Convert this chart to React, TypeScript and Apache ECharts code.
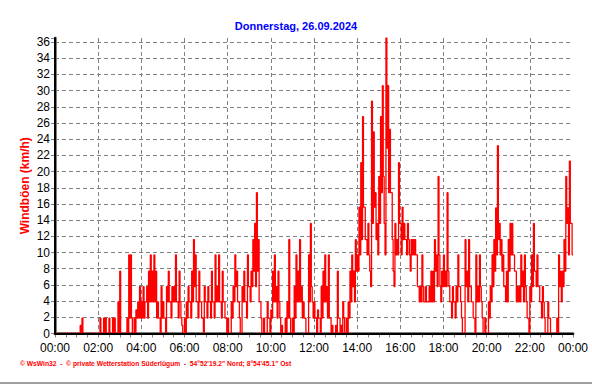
import React, { useEffect, useRef } from "react";
import * as echarts from "echarts";

const TITLE = "Donnerstag, 26.09.2024";
const Y_NAME = "Windböen (km/h)";
const FOOTER = "© WsWin32  -  © private Wetterstation Süderlügum  -  54°52'19.2\" Nord; 8°54'45.1\" Ost";

const STEP_MINUTES = 5;
const Y_TICKS = [0, 2, 4, 6, 8, 10, 12, 14, 16, 18, 20, 22, 24, 26, 28, 30, 32, 34, 36];

// Upper gust in each 5-minute slot (km/h)
// 00:00 - 06:00
const gustsHighNight = [
  0, 0, 0, 0, 0, 0,
  0, 0, 0, 0, 0, 0,
  0, 0, 1, 1.9, 0, 0,
  0, 0, 0, 0, 0, 0,
  0, 1.9, 0, 1.9, 1.9, 0,
  1.9, 0, 1.9, 1.9, 0, 3.9,
  7.7, 0, 0, 0, 1.9, 9.7,
  9.7, 0, 1.9, 2.9, 3.9, 5.8,
  3.9, 5.8, 3.9, 5.8, 7.7, 9.7,
  7.7, 9.7, 7.7, 3.9, 1.9, 5.8,
  3.9, 1.9, 5.8, 7.7, 3.9, 5.8,
  5.8, 9.7, 3.9, 7.7, 1.9, 0,
];
// 06:00 - 12:00
const gustsHighMorning = [
  1.9, 3.9, 5.8, 3.9, 7.7, 11.6,
  9.7, 3.9, 7.7, 3.9, 1.9, 5.8,
  3.9, 5.8, 3.9, 7.7, 3.9, 9.7,
  5.8, 9.7, 3.9, 7.7, 3.9, 1.9,
  1.9, 0, 3.9, 5.8, 9.7, 7.7,
  3.9, 0, 5.8, 7.7, 3.9, 9.7,
  5.8, 7.7, 11.6, 13.6, 17.4, 11.6,
  3.9, 0, 1.9, 0, 3.9, 1.9,
  2.9, 7.7, 9.7, 5.8, 7.7, 1.9,
  1, 0, 1.9, 3.9, 11.6, 0,
  1.9, 5.8, 9.7, 7.7, 11.6, 5.8,
  3.9, 1.9, 0, 9.7, 13.6, 3.9,
];
// 12:00 - 18:00
const gustsHighAfternoon = [
  3.9, 1.9, 2.9, 1.9, 5.8, 7.7,
  9.7, 5.8, 9.7, 1.9, 1, 0,
  1, 7.7, 1.9, 1, 3.9, 0,
  1.9, 3.9, 7.7, 9.7, 7.7, 11.6,
  9.7, 15.6, 21.1, 26.8, 15.6, 11.6,
  13.6, 7.7, 28.7, 24.9, 17.4, 13.6,
  19.4, 26.8, 30.6, 13.6, 36.5, 30.6,
  25.2, 17.4, 7.7, 13.6, 11.6, 21.1,
  13.6, 15.6, 13.6, 11.6, 13.6, 9.7,
  11.6, 11.6, 11.6, 9.7, 5.8, 5.8,
  9.7, 3.9, 5.8, 3.9, 5.8, 7.7,
  7.7, 11.6, 9.7, 19.4, 5.8, 7.7,
];
// 18:00 - 24:00
const gustsHighEvening = [
  9.7, 7.7, 17.4, 5.8, 3.9, 5.8,
  3.9, 5.8, 9.7, 5.8, 1.9, 0,
  11.6, 7.7, 11.6, 5.8, 3.9, 1.9,
  9.7, 5.8, 9.7, 3.9, 0, 1.9,
  0, 3.9, 5.8, 9.7, 11.6, 15.5,
  23.2, 13.6, 11.6, 9.7, 5.8, 7.7,
  11.6, 13.6, 13.6, 9.7, 7.7, 5.8,
  5.8, 9.7, 7.7, 9.7, 3.9, 1.9,
  5.8, 9.7, 13.6, 7.7, 9.7, 5.8,
  3.9, 5.8, 1.9, 0, 3.9, 1.9,
  0, 0, 0, 1.9, 9.7, 7.7,
  7.7, 11.6, 19.4, 15.5, 21.3, 13.6,
];

// Lower gust in each 5-minute slot (km/h)
// 00:00 - 06:00
const gustsLowNight = [
  0, 0, 0, 0, 0, 0,
  0, 0, 0, 0, 0, 0,
  0, 0, 0, 0, 0, 0,
  0, 0, 0, 0, 0, 0,
  0, 0, 0, 0, 0, 0,
  0, 0, 0, 0, 0, 0,
  0, 0, 0, 0, 0, 1.9,
  1.9, 0, 0, 1.9, 1.9, 1.9,
  1.9, 1.9, 3.9, 1.9, 3.9, 3.9,
  3.9, 3.9, 1.9, 1.9, 0, 1.9,
  1.9, 0, 3.9, 3.9, 1.9, 3.9,
  3.9, 3.9, 1.9, 3.9, 1, 0,
];
// 06:00 - 12:00
const gustsLowMorning = [
  0, 1.9, 3.9, 1.9, 3.9, 5.8,
  3.9, 1.9, 3.9, 1.9, 0, 3.9,
  1.9, 3.9, 1.9, 3.9, 1.9, 3.9,
  3.9, 3.9, 1.9, 3.9, 1.9, 0,
  0, 0, 1.9, 3.9, 5.8, 3.9,
  1.9, 0, 3.9, 3.9, 1.9, 5.8,
  3.9, 5.8, 7.7, 5.8, 7.7, 3.9,
  1.9, 0, 0, 0, 1.9, 0,
  1.9, 3.9, 3.9, 1.9, 3.9, 0,
  0, 0, 0, 1.9, 1.9, 0,
  0, 1.9, 3.9, 3.9, 3.9, 1.9,
  1.9, 0, 0, 3.9, 5.8, 1.9,
];
// 12:00 - 18:00
const gustsLowAfternoon = [
  1.9, 0, 1.9, 0, 1.9, 3.9,
  3.9, 1.9, 1.9, 0, 0, 0,
  0, 1.9, 0, 0, 1.9, 0,
  0, 1.9, 3.9, 5.8, 3.9, 7.7,
  7.7, 9.7, 11.6, 15.6, 11.6, 9.7,
  9.7, 5.8, 13.6, 15.6, 11.6, 9.7,
  13.6, 17.4, 19.4, 9.7, 22.9, 17.4,
  17.4, 11.6, 5.8, 9.7, 9.7, 13.6,
  9.7, 11.6, 11.6, 9.7, 11.6, 7.7,
  9.7, 9.7, 9.7, 5.8, 3.9, 3.9,
  5.8, 3.9, 3.9, 3.9, 3.9, 3.9,
  3.9, 7.7, 5.8, 9.7, 3.9, 5.8,
];
// 18:00 - 24:00
const gustsLowEvening = [
  5.8, 5.8, 7.7, 3.9, 1.9, 3.9,
  1.9, 3.9, 5.8, 3.9, 0, 0,
  5.8, 3.9, 5.8, 3.9, 1.9, 0,
  3.9, 3.9, 5.8, 1.9, 0, 0,
  0, 1.9, 3.9, 5.8, 7.7, 9.7,
  11.6, 9.7, 7.7, 5.8, 3.9, 3.9,
  7.7, 9.7, 9.7, 7.7, 3.9, 3.9,
  3.9, 5.8, 3.9, 5.8, 1.9, 0,
  3.9, 5.8, 7.7, 5.8, 5.8, 3.9,
  1.9, 3.9, 0, 0, 1.9, 0,
  0, 0, 0, 0, 5.8, 3.9,
  5.8, 7.7, 13.6, 9.7, 13.6, 9.7,
];

const gustsHigh = [...gustsHighNight, ...gustsHighMorning, ...gustsHighAfternoon, ...gustsHighEvening];
const gustsLow = [...gustsLowNight, ...gustsLowMorning, ...gustsLowAfternoon, ...gustsLowEvening];

function pad(n: number) {
  return n < 10 ? "0" + n : String(n);
}

export default function App() {
  const ref = useRef<HTMLDivElement>(null);
  useEffect(() => {
    if (!ref.current) return;
    const chart = echarts.init(ref.current, null, { renderer: "svg" });
    const data: [number, number][] = [];
    gustsHigh.forEach((v, i) => {
      data.push([i * STEP_MINUTES, v]);
      data.push([i * STEP_MINUTES + STEP_MINUTES / 2, gustsLow[i]]);
    });
    data.push([24 * 60, gustsLow[gustsLow.length - 1]]);
    const yMax = 36.5;
    const gray = "#808080";
    const font = "Arial, Liberation Sans, sans-serif";
    chart.setOption({
      animation: false,
      backgroundColor: "#ffffff",
      title: {
        text: TITLE,
        left: "center",
        top: 15,
        textStyle: { color: "#0000ff", fontSize: 11, fontWeight: "bold", fontFamily: font },
      },
      grid: { left: 55, right: 19, top: 38, bottom: 50.5, containLabel: false },
      xAxis: [
        {
          type: "value",
          min: 0,
          max: 1440,
          interval: 120,
          axisLine: { show: true, onZero: false, lineStyle: { color: gray, width: 3 } },
          axisTick: { show: true, inside: false, length: 4, lineStyle: { color: gray, width: 1 } },
          minorTick: { show: true, splitNumber: 4, length: 4, lineStyle: { color: gray, width: 1 } },
          axisLabel: {
            margin: 8,
            color: "#000",
            fontSize: 12,
            fontFamily: font,
            formatter: (v: number) => pad(Math.floor(v / 60) % 24) + ":00",
          },
          splitLine: {
            show: true,
            showMinLine: false,
            showMaxLine: false,
            lineStyle: { color: gray, type: [4, 3], width: 1 },
          },
        },
        {
          type: "value",
          position: "top",
          min: 0,
          max: 1440,
          z: 5,
          axisLine: { show: true, lineStyle: { color: "#000", width: 2 } },
          axisTick: { show: false },
          axisLabel: { show: false },
          splitLine: { show: false },
        },
      ],
      yAxis: [
        {
          type: "value",
          min: 0,
          max: yMax,
          interval: 2,
          name: Y_NAME,
          nameLocation: "middle",
          nameGap: 24,
          nameMoveOverlap: false,
          nameTextStyle: { color: "#ff0000", fontSize: 12, fontWeight: "bold", fontFamily: font },
          axisLine: { show: true, lineStyle: { color: gray, width: 3 } },
          axisTick: { show: true, inside: false, length: 4, lineStyle: { color: gray, width: 1 } },
          axisLabel: {
            margin: 5,
            color: "#000",
            fontSize: 12,
            fontFamily: font,
            formatter: (v: number) => (Y_TICKS.indexOf(v) >= 0 ? String(v) : ""),
          },
          splitLine: {
            show: true,
            showMinLine: false,
            showMaxLine: false,
            lineStyle: { color: gray, type: [4, 3], width: 1 },
          },
        },
        {
          type: "value",
          position: "right",
          min: 0,
          max: yMax,
          z: 5,
          axisLine: { show: true, lineStyle: { color: "#000", width: 2 } },
          axisTick: { show: false },
          axisLabel: { show: false },
          splitLine: { show: false },
        },
      ],
      series: [
        {
          type: "line",
          xAxisIndex: 0,
          yAxisIndex: 0,
          data,
          step: "end",
          showSymbol: false,
          symbol: "none",
          lineStyle: { color: "#ff0000", width: 1.3 },
          clip: true,
        },
      ],
      graphic: [
        {
          type: "text",
          left: 20,
          top: 360,
          style: {
            text: FOOTER,
            fill: "#ff0000",
            fontSize: 6.7,
            fontWeight: "bold",
            fontFamily: font,
          },
        },
        {
          type: "rect",
          left: 0,
          top: 382,
          shape: { width: 592, height: 2 },
          style: { fill: "#a0a0a0" },
        },
      ],
    });
    return () => chart.dispose();
  }, []);
  return (
    <div
      ref={ref}
      style={{ position: "absolute", left: 0, top: 0, width: 592, height: 384, background: "#fff" }}
    />
  );
}
